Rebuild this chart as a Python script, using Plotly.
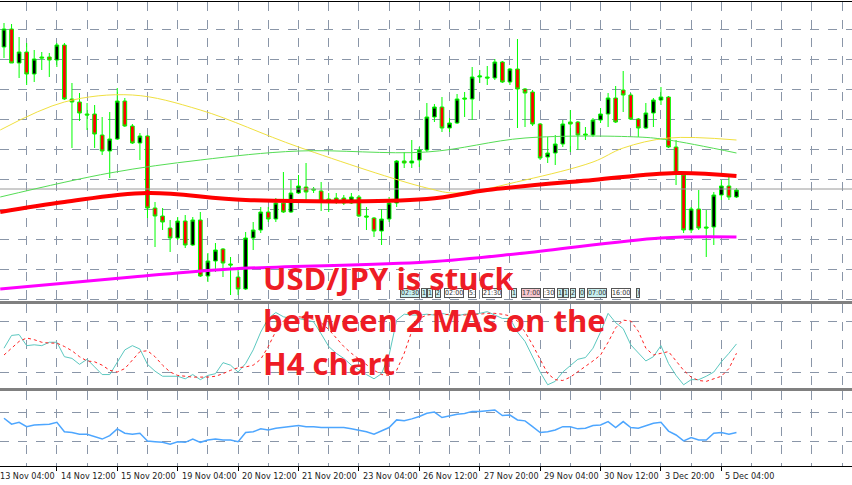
import plotly.graph_objects as go

H = 466.0
def py(px):
    return 1 - px / H

opens = [114.03,114.21,113.87,113.98,113.76,113.93,113.93,113.90,114.05,113.51,
         113.48,113.36,113.36,113.15,112.99,113.11,113.49,113.24,113.07,113.14,
         112.42,112.34,112.22,112.12,112.29,112.05,112.30,111.74,111.89,112.01,
         111.86,111.73,111.61,112.12,112.20,112.38,112.31,112.47,112.38,112.57,
         112.63,112.61,112.59,112.51,112.52,112.52,112.47,112.53,112.34,112.32,
         112.19,112.31,112.47,112.89,112.87,112.90,113.00,113.33,113.43,113.22,
         113.27,113.52,113.51,113.73,113.73,113.72,113.88,113.68,113.81,113.61,
         113.58,113.26,112.93,112.97,113.06,113.28,113.28,113.16,113.15,113.30,
         113.36,113.52,113.60,113.55,113.31,113.22,113.37,113.50,113.53,113.03,
         112.75,112.20,112.41,112.23,112.23,112.55,112.64,112.53]
highs = [114.27,114.26,114.13,114.07,114.00,113.98,113.97,114.07,114.07,113.67,
         113.57,113.47,113.45,113.33,113.38,113.62,113.52,113.26,113.17,113.15,
         112.48,112.42,112.30,112.33,112.35,112.33,112.38,111.97,112.07,112.02,
         111.93,111.83,112.18,112.28,112.43,112.43,112.52,112.78,112.70,112.75,
         112.87,112.63,112.68,112.57,112.57,112.55,112.57,112.55,112.43,112.33,
         112.41,112.53,112.90,112.98,113.10,113.03,113.47,113.46,113.53,113.32,
         113.56,113.58,113.83,113.80,113.84,113.91,113.89,113.82,114.11,113.62,
         113.60,113.27,113.13,113.15,113.30,113.40,113.29,113.23,113.32,113.42,
         113.57,113.64,113.79,113.57,113.32,113.47,113.52,113.63,113.54,113.10,
         112.77,112.43,112.60,112.40,112.58,112.70,112.73,112.62]
lows = [113.92,113.87,113.72,113.65,113.68,113.80,113.73,113.83,113.50,113.02,
        113.29,113.20,113.02,112.95,112.72,113.10,113.23,113.06,112.90,112.32,
        112.03,112.20,111.98,112.10,112.02,112.04,111.73,111.68,111.78,111.73,
        111.55,111.55,111.60,112.00,112.17,112.28,112.28,112.37,112.37,112.56,
        112.50,112.57,112.39,112.38,112.46,112.45,112.46,112.33,112.20,112.13,
        112.05,112.28,112.43,112.82,112.82,112.83,112.98,113.28,113.18,113.18,
        113.26,113.33,113.30,113.67,113.65,113.70,113.67,113.65,113.22,113.23,
        113.24,112.90,112.87,112.85,113.03,112.98,113.00,113.10,113.13,113.27,
        113.23,113.27,113.38,113.30,113.13,113.21,113.23,113.45,113.02,112.65,
        112.17,112.17,112.20,111.93,112.05,112.50,112.50,112.52]
closes = [114.21,113.87,113.98,113.76,113.91,113.92,113.90,114.05,113.51,113.48,
          113.37,113.35,113.16,112.99,113.11,113.49,113.24,113.07,113.14,112.42,
          112.34,112.28,112.12,112.29,112.05,112.30,111.74,111.89,112.00,111.87,
          111.85,111.61,112.12,112.20,112.38,112.31,112.47,112.38,112.57,112.64,
          112.58,112.60,112.48,112.50,112.48,112.47,112.53,112.34,112.33,112.19,
          112.31,112.47,112.89,112.87,112.89,113.00,113.33,113.43,113.22,113.27,
          113.51,113.51,113.73,113.74,113.72,113.88,113.68,113.81,113.61,113.57,
          113.26,112.92,112.97,113.06,113.26,113.26,113.15,113.15,113.30,113.36,
          113.52,113.28,113.55,113.31,113.22,113.37,113.50,113.53,113.03,112.77,
          112.20,112.41,112.22,112.22,112.55,112.64,112.53,112.60]
idx = list(range(len(opens)))

ma_yellow_x = [-0.5, 8, 17, 26, 39, 56, 60, 69, 78, 82, 88, 97]
ma_yellow_y = [113.20,113.48,113.55,113.40,113.03,112.62,112.57,112.70,112.88,113.02,113.12,113.10]
ma_green_x = [-0.5, 14, 26, 39, 56, 69, 84, 88, 97]
ma_green_y = [112.53,112.77,112.90,112.99,112.98,113.12,113.13,113.10,112.97]
ma_red_x = [-0.5, 8, 19, 32, 56, 64, 78, 89, 97]
ma_red_y = [112.38,112.48,112.57,112.50,112.51,112.60,112.70,112.77,112.74]
ma_mag_x = [-0.5, 17, 30, 56, 69, 87, 97]
ma_mag_y = [111.61,111.73,111.81,111.88,111.97,112.12,112.13]
last_price = 112.61

stoch_main = [48,63,64,51,52,51,55,55,38,36,
              29,35,26,17,17,31,46,51,47,29,
              21,15,15,15,12,17,11,16,18,31,
              28,20,30,46,67,83,90,85,83,83,
              81,79,65,50,42,36,28,22,17,12,
              18,40,81,88,87,87,88,87,89,87,
              86,88,88,89,91,87,83,83,67,56,
              38,20,5,9,20,28,35,37,48,67,
              89,78,71,52,42,33,38,51,30,16,
              5,11,11,15,20,32,42,53]
stoch_signal = [40,48,56,60,58,55,54,54,50,45,
                38,33,32,28,22,20,24,34,44,45,
                38,28,20,16,15,14,14,14,15,18,
                22,25,26,28,35,50,68,80,86,85,
                84,82,78,70,60,50,42,35,28,22,
                17,16,22,42,68,83,87,88,87,88,
                87,87,88,88,89,89,88,86,80,67,
                52,35,18,11,10,14,20,27,33,40,
                55,72,81,80,68,48,40,42,44,33,
                22,14,10,9,12,15,24,42]
rsi = [62.6,54.4,57,51,53.4,53.4,54.4,57,44,43,
       40.6,40.6,37.3,34,38.7,48,42,40.6,42,31.4,
       30.4,29.5,26.8,30.4,29.5,34,29.5,32.7,34,32.7,
       32.7,30.4,43,44,48,46.5,48.8,49.8,51,52.5,
       51,51,49.8,49.8,49.8,49.8,48,46.5,44,40.6,
       45,49.8,60.3,59,61.7,65,69.5,71,63.6,66.3,
       68,69,72,72,72.8,74,66.3,67,60.3,59,
       51,43,44,46.5,51,51,48,48.8,52.5,53.4,
       58,49.8,58,49.8,48.8,52.5,55.7,57,45,39.6,
       31.4,36,32.7,32.7,42,43,40.6,43]

tick_idx = [-1, 7, 15, 23, 31, 39, 47, 55, 63, 71, 79, 87, 95]
tick_labels = ["13 Nov 04:00","14 Nov 12:00","15 Nov 20:00","19 Nov 04:00","20 Nov 12:00",
               "21 Nov 20:00","23 Nov 04:00","26 Nov 12:00","27 Nov 20:00","29 Nov 04:00",
               "30 Nov 12:00","3 Dec 20:00","5 Dec 04:00"]

trade_labels = ["02:30","1","1","2","02:00","5:","21:30","1","17:00",":30","1","1","2","0","07:00","16:00",")"]
trade_px = [410,424,430,438,454,472,492,514,531,549,560,566,573,582,597,621,638]
trade_bg = ["#c8f0f0","#c8f0f0","#c8f0f0","#c8f0f0","#ffffff","#ffffff","#ffffff","#c8f0f0",
            "#f8c8d0","#ffffff","#c8f0f0","#c8f0f0","#c8f0f0","#c8f0f0","#c8f0f0","#ffffff","#c8f0f0"]

title_lines = ["USD/JPY is stuck", "between 2 MAs on the", "H4 chart"]
title_px = [278, 320, 363]

XR = [-0.53, 112.3]
fig = go.Figure()
fig.add_trace(go.Candlestick(x=idx, open=opens, high=highs, low=lows, close=closes,
    increasing=dict(line=dict(color="#00ff00", width=1), fillcolor="#000000"),
    decreasing=dict(line=dict(color="#00ff00", width=1), fillcolor="#ff0000"),
    whiskerwidth=0, xaxis="x", yaxis="y", showlegend=False, hoverinfo="skip"))
fig.add_trace(go.Scatter(x=XR, y=[last_price]*2, mode="lines", line=dict(color="#9a9a9a", width=1), xaxis="x", yaxis="y"))
fig.add_trace(go.Scatter(x=ma_yellow_x, y=ma_yellow_y, mode="lines", line=dict(color="#f0e040", width=1, shape="spline"), xaxis="x", yaxis="y"))
fig.add_trace(go.Scatter(x=ma_green_x, y=ma_green_y, mode="lines", line=dict(color="#55dd55", width=1, shape="spline"), xaxis="x", yaxis="y"))
fig.add_trace(go.Scatter(x=ma_red_x, y=ma_red_y, mode="lines", line=dict(color="#ff0000", width=4, shape="spline"), xaxis="x", yaxis="y"))
fig.add_trace(go.Scatter(x=ma_mag_x, y=ma_mag_y, mode="lines", line=dict(color="#ff00ff", width=3, shape="spline"), xaxis="x", yaxis="y"))
fig.add_trace(go.Scatter(x=idx, y=stoch_main, mode="lines", line=dict(color="#5cc8c0", width=1), xaxis="x2", yaxis="y2"))
fig.add_trace(go.Scatter(x=idx, y=stoch_signal, mode="lines", line=dict(color="#ff2020", width=1, dash="dot"), xaxis="x2", yaxis="y2"))
fig.add_trace(go.Scatter(x=idx, y=rsi, mode="lines", line=dict(color="#4da6ff", width=1.5), xaxis="x3", yaxis="y3"))

grid = dict(showgrid=True, gridcolor="#8a96a8", griddash="dash", gridwidth=1)
xcommon = dict(range=XR, showticklabels=False, zeroline=False, fixedrange=True, **grid)
fig.update_layout(
    width=852, height=485, margin=dict(l=0, r=0, t=0, b=19),
    paper_bgcolor="white", plot_bgcolor="white", showlegend=False,
    xaxis=dict(domain=[0, 1], anchor="y", rangeslider=dict(visible=False), tick0=3, dtick=4, **xcommon),
    xaxis2=dict(domain=[0, 1], anchor="y2", tick0=3, dtick=4, **xcommon),
    xaxis3=dict(domain=[0, 1], anchor="y3", showline=True, linecolor="#000000", linewidth=1,
                ticks="outside", tickvals=tick_idx, ticklen=4, tickcolor="#000000",
                minor=dict(tick0=3, dtick=4, showgrid=True, gridcolor="#8a96a8", griddash="dash"), **xcommon),
    yaxis=dict(domain=[py(302), py(2)], range=[111.48, 114.48], tick0=114.21, dtick=0.30,
               showticklabels=False, zeroline=False, **grid),
    yaxis2=dict(domain=[py(389), py(304)], range=[0, 100], tickvals=[20, 80],
                showticklabels=False, zeroline=False, **grid),
    yaxis3=dict(domain=[0, py(391)], range=[-3, 100], tickvals=[30, 70],
                showticklabels=False, zeroline=False, **grid),
)

shapes = [
    dict(type="line", xref="paper", yref="paper", x0=0, x1=1, y0=py(1.5), y1=py(1.5), line=dict(color="#000000", width=1)),
    dict(type="line", xref="paper", yref="paper", x0=0, x1=1, y0=py(302.5), y1=py(302.5), line=dict(color="#808080", width=3)),
    dict(type="line", xref="paper", yref="paper", x0=0, x1=1, y0=py(389.5), y1=py(389.5), line=dict(color="#808080", width=3)),
]
fig.update_layout(shapes=shapes)

ann = []
for t, x in zip(tick_labels, tick_idx):
    px = 4 + 7.55 * (x + 0.25)
    ann.append(dict(x=px / 852, y=0, xref="paper", yref="paper", yshift=-3, text=t, showarrow=False,
                    xanchor="left", yanchor="top",
                    font=dict(family="DejaVu Sans Condensed, Liberation Sans Narrow, Arial", size=9, color="#222222")))
for t, x, bg in zip(trade_labels, trade_px, trade_bg):
    ann.append(dict(x=x / 852, y=py(293), xref="paper", yref="paper", text=t, showarrow=False,
                    xanchor="center", yanchor="middle", bgcolor=bg, bordercolor="#555555", borderwidth=1, borderpad=0,
                    font=dict(family="DejaVu Sans Condensed, Arial", size=7, color="#333333")))
for t, ypx in zip(title_lines, title_px):
    ann.append(dict(x=261 / 852, y=py(ypx), xref="paper", yref="paper", text="<b>" + t + "</b>", showarrow=False,
                    xanchor="left", yanchor="middle",
                    font=dict(family="Open Sans", size=31, color="#ee1c25")))
fig.update_layout(annotations=ann)

fig.write_html("out.html", config={"displayModeBar": False},
               post_script="document.body.style.margin='0';document.body.style.overflow='hidden';")
